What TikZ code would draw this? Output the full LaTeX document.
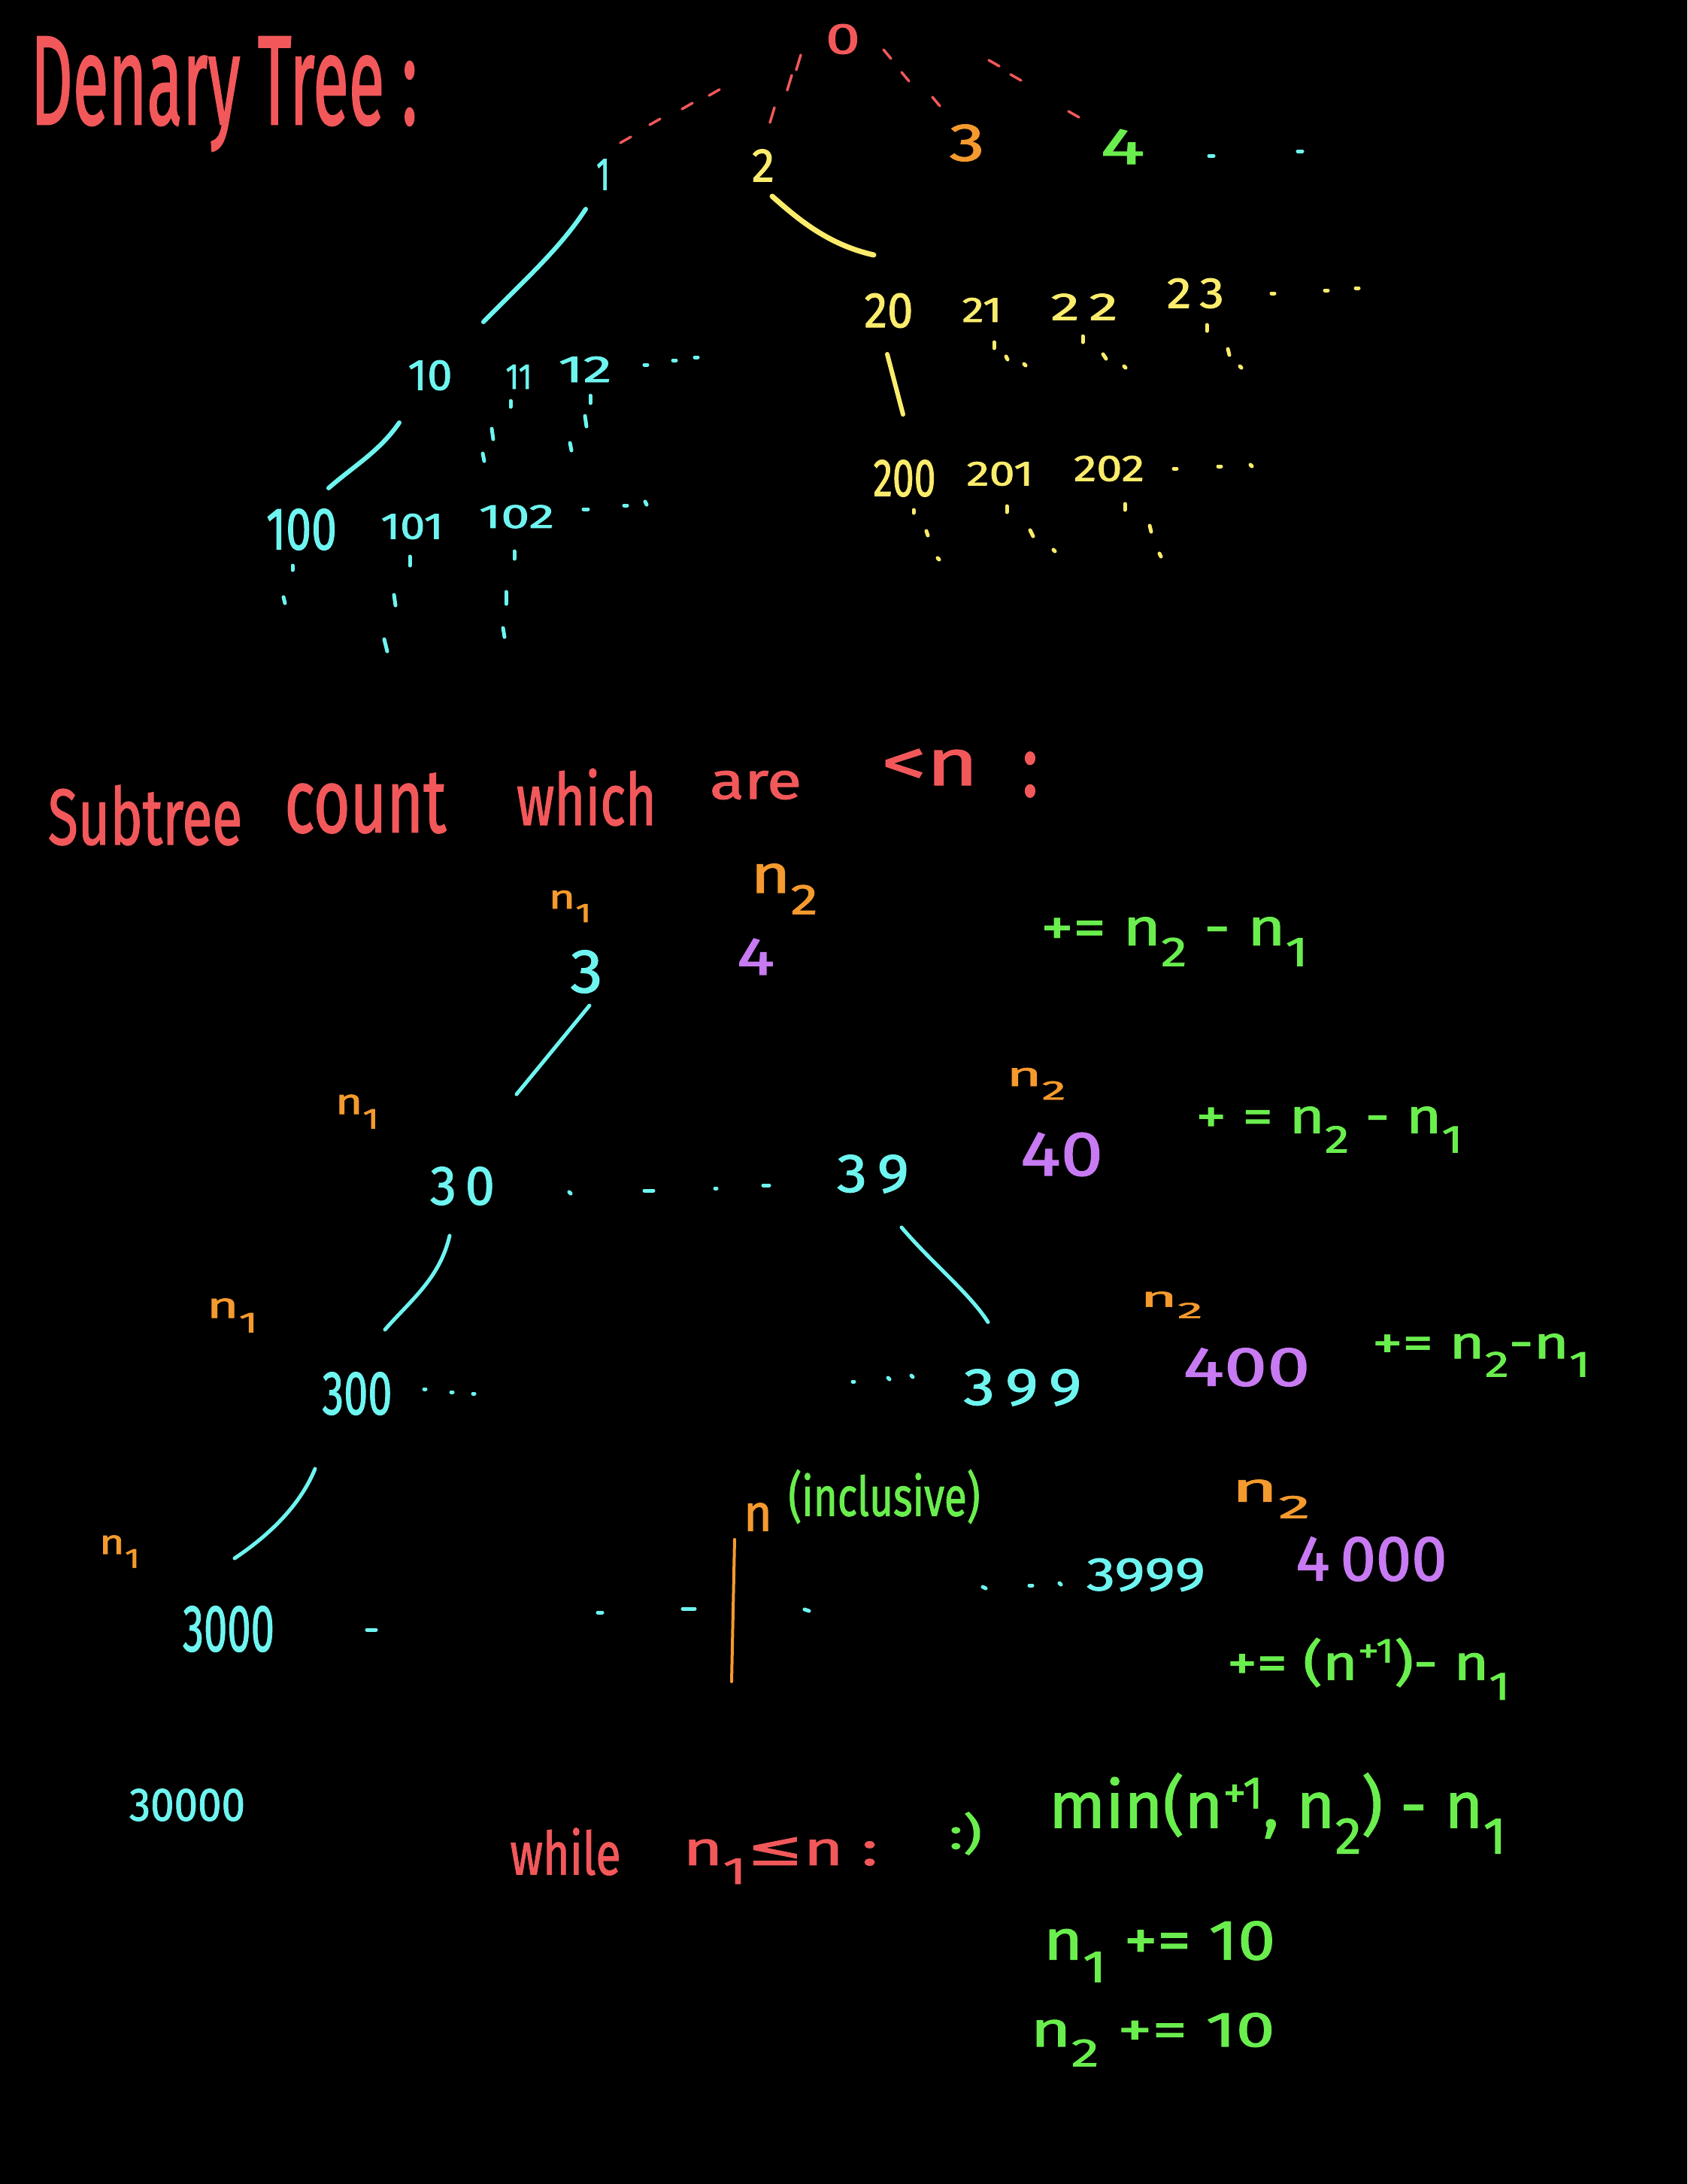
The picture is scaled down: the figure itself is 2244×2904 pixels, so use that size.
\documentclass[tikz,border=0pt]{standalone}
\usepackage{fontspec}
\usepackage{graphicx}
\setmainfont{Fira Sans}[FakeBold=1.5]
\newfontfamily\dejavu{DejaVu Sans}[FakeBold=1.5]
\definecolor{redH}{HTML}{F2585A}
\definecolor{cyanH}{HTML}{6EF5F0}
\definecolor{yellowH}{HTML}{FCEC6C}
\definecolor{orangeH}{HTML}{F59A2E}
\definecolor{greenH}{HTML}{6AEE4E}
\definecolor{purpleH}{HTML}{C87AF2}
\newcommand{\hw}[3]{\resizebox*{#1pt}{#2pt}{#3}}
\newcommand{\sn}[1]{n\raisebox{-0.4em}{\footnotesize #1}}
\newcommand{\hmk}[5]{\draw[dotm,#1] ({#2-#4},{#3-#5}) -- ({#2+#4},{#3+#5});}
\tikzset{
  lbl/.style={inner sep=0pt, outer sep=0pt, anchor=center},
  conn/.style={line width=6pt, line cap=round},
  dotm/.style={line width=5pt, line cap=round},
  rdash/.style={line width=3.5pt, line cap=round, redH}
}
\begin{document}
\begin{tikzpicture}[x=1pt,y=-1pt]
\fill[black] (0,0) rectangle (2244,2904);
\useasboundingbox (0,0) rectangle (2244,2904);

% ---------- top tree ----------
\node[lbl,text=redH] (title) at (298,125) {\hw{514}{152}{Denary Tree :}};
\node[lbl,text=redH] (n0) at (1121,52) {\hw{46}{40}{0}};
\node[lbl,text=cyanH] (n1) at (802,232) {\hw{18}{41}{1}};
\node[lbl,text=yellowH] (n2) at (1015,220) {\hw{30}{43}{2}};
\node[lbl,text=orangeH] (n3) at (1286,190) {\hw{47}{49}{3}};
\node[lbl,text=greenH] (n4) at (1493,195) {\hw{59}{46}{4}};

% dashed edges from 0
\foreach \p in {(950,123),(914,141),(871,162),(832,186)} {\draw[rdash] \p ++(-7,4) -- ++(14,-8);}
\foreach \p in {(1062,83),(1050,110),(1027,153)} {\draw[rdash] \p ++(-3,10) -- ++(6,-20);}
\foreach \p in {(1180,72),(1204,102),(1245,135)} {\draw[rdash] \p ++(-5,-6) -- ++(10,12);}
\foreach \p in {(1322,84),(1351,103),(1428,152)} {\draw[rdash] \p ++(-7,-4) -- ++(14,8);}
\hmk{cyanH}{1611}{207}{3}{0}
\hmk{cyanH}{1729}{201}{3}{0}

% subtree of 1
\coordinate (c1a) at (779,278); \coordinate (c1b) at (643,428);
\draw[conn,cyanH] (c1a) .. controls (745,330) and (700,370) .. (c1b);
\node[lbl,text=cyanH] (n10) at (572,499) {\hw{59}{40}{10}};
\node[lbl,text=cyanH] (n11) at (690,501) {\hw{35}{32}{11}};
\node[lbl,text=cyanH] (n12) at (778,491) {\hw{71}{34}{12}};
\hmk{cyanH}{859}{485}{2}{0}
\hmk{cyanH}{897}{479}{2}{0}
\hmk{cyanH}{926}{475}{2}{0}
\hmk{cyanH}{679}{537}{0}{4}
\hmk{cyanH}{655}{577}{1}{7}
\hmk{cyanH}{643}{608}{1}{5}
\hmk{cyanH}{785}{531}{0}{5}
\hmk{cyanH}{779}{560}{1}{7}
\hmk{cyanH}{759}{594}{1}{5}
\coordinate (c10a) at (531,562); \coordinate (c10b) at (437,649);
\draw[conn,cyanH] (c10a) .. controls (505,600) and (470,620) .. (c10b);
\node[lbl,text=cyanH] (n100) at (401,704) {\hw{94}{55}{100}};
\node[lbl,text=cyanH] (n101) at (548,700) {\hw{83}{34}{101}};
\node[lbl,text=cyanH] (n102) at (687,687) {\hw{100}{31}{102}};
\hmk{cyanH}{779}{677}{3}{0}
\hmk{cyanH}{832}{672}{2}{0}
\hmk{cyanH}{859}{669}{1}{2}
\hmk{cyanH}{389}{755}{0}{3}
\hmk{cyanH}{378}{798}{1}{4}
\hmk{cyanH}{545}{746}{0}{6}
\hmk{cyanH}{525}{798}{1}{7}
\hmk{cyanH}{513}{858}{2}{8}
\hmk{cyanH}{684}{738}{0}{5}
\hmk{cyanH}{673}{795}{0}{8}
\hmk{cyanH}{670}{841}{1}{6}

% subtree of 2
\coordinate (c2a) at (1027,261); \coordinate (c2b) at (1162,339);
\draw[conn,yellowH,line width=7pt] (c2a) .. controls (1060,290) and (1100,325) .. (c2b);
\node[lbl,text=yellowH] (n20) at (1182,413) {\hw{65}{46}{20}};
\node[lbl,text=yellowH] (n21) at (1306,412) {\hw{53}{32}{21}};
\node[lbl,text=yellowH] (n22) at (1442,408) {\hw{89}{35}{2\,2}};
\node[lbl,text=yellowH] (n23) at (1590,390) {\hw{76}{40}{2\,3}};
\hmk{yellowH}{1693}{390}{2}{0}
\hmk{yellowH}{1764}{386}{2}{0}
\hmk{yellowH}{1805}{383}{2}{0}
\hmk{yellowH}{1322}{459}{0}{4}
\hmk{yellowH}{1339}{476}{1}{2}
\hmk{yellowH}{1363}{485}{1}{1}
\hmk{yellowH}{1440}{451}{0}{4}
\hmk{yellowH}{1469}{474}{2}{3}
\hmk{yellowH}{1496}{488}{1}{1}
\hmk{yellowH}{1605}{436}{0}{4}
\hmk{yellowH}{1634}{468}{1}{4}
\hmk{yellowH}{1650}{488}{1}{1}
\coordinate (c20a) at (1180,471); \coordinate (c20b) at (1201,551);
\draw[conn,yellowH] (c20a) -- (c20b);
\node[lbl,text=yellowH] (n200) at (1203,636) {\hw{83}{49}{200}};
\node[lbl,text=yellowH] (n201) at (1330,630) {\hw{89}{32}{201}};
\node[lbl,text=yellowH] (n202) at (1475,623) {\hw{94}{34}{202}};
\hmk{yellowH}{1563}{623}{2}{0}
\hmk{yellowH}{1622}{620}{2}{0}
\hmk{yellowH}{1664}{619}{1}{1}
\hmk{yellowH}{1215}{680}{0}{2}
\hmk{yellowH}{1233}{709}{1}{3}
\hmk{yellowH}{1248}{743}{1}{1}
\hmk{yellowH}{1339}{677}{0}{4}
\hmk{yellowH}{1372}{709}{2}{4}
\hmk{yellowH}{1402}{732}{1}{1}
\hmk{yellowH}{1496}{674}{0}{4}
\hmk{yellowH}{1530}{703}{1}{4}
\hmk{yellowH}{1543}{738}{1}{2}

% ---------- subtree count ----------
\node[lbl,text=redH] (w1) at (193,1084) {\hw{258}{80}{Subtree}};
\node[lbl,text=redH] (w2) at (486,1068) {\hw{215}{80}{count}};
\node[lbl,text=redH] (w3) at (780,1060) {\hw{186}{76}{which}};
\node[lbl,text=redH] (w4) at (1005,1044) {\hw{122}{38}{are}};
\node[lbl,text=redH] (w5) at (1237,1020) {\hw{129}{48}{<n}};
\node[lbl,text=redH] (w6) at (1370,1030) {\hw{22}{60}{:}};

\node[lbl,text=orangeH] (a1) at (758,1205) {\hw{57}{42}{\sn{1}}};
\node[lbl,text=orangeH] (a2) at (1043,1182) {\hw{89}{67}{\sn{2}}};
\node[lbl,text=cyanH] (b3) at (780,1292) {\hw{43}{57}{3}};
\node[lbl,text=purpleH] (b4) at (1005,1272) {\hw{50}{48}{4}};
\node[lbl,text=greenH] (e1) at (1562,1252) {\hw{355}{65}{+= \sn{2} - \sn{1}}};

\coordinate (c3a) at (784,1337); \coordinate (c3b) at (687,1455);
\draw[conn,cyanH,line width=5pt] (c3a) -- (c3b);
\node[lbl,text=orangeH] (a3) at (475,1478) {\hw{58}{45}{\sn{1}}};
\node[lbl,text=cyanH] (b30) at (615,1577) {\hw{86}{51}{3\,0}};
\hmk{cyanH}{758}{1586}{1}{1}
\hmk{cyanH}{863}{1583}{6}{0}
\hmk{cyanH}{952}{1580}{1}{0}
\hmk{cyanH}{1019}{1576}{4}{0}
\node[lbl,text=cyanH] (b39) at (1161,1561) {\hw{96}{51}{3\,9}};
\node[lbl,text=orangeH] (a4) at (1378,1441) {\hw{79}{42}{\sn{2}}};
\node[lbl,text=purpleH] (b40) at (1412,1535) {\hw{110}{58}{40}};
\node[lbl,text=greenH] (e2) at (1768,1502) {\hw{355}{61}{+ = \sn{2} - \sn{1}}};

\coordinate (c30a) at (598,1643); \coordinate (c30b) at (512,1768);
\draw[conn,cyanH,line width=5pt] (c30a) .. controls (585,1700) and (545,1730) .. (c30b);
\coordinate (c39a) at (1199,1632); \coordinate (c39b) at (1314,1758);
\draw[conn,cyanH,line width=5pt] (c39a) .. controls (1240,1680) and (1290,1720) .. (c39b);
\node[lbl,text=orangeH] (a5) at (309,1749) {\hw{68}{45}{\sn{1}}};
\node[lbl,text=orangeH] (a6) at (1558,1735) {\hw{83}{35}{\sn{2}}};
\node[lbl,text=cyanH] (b300) at (475,1853) {\hw{93}{57}{300}};
\hmk{cyanH}{565}{1847}{1}{0}
\hmk{cyanH}{601}{1851}{1}{0}
\hmk{cyanH}{630}{1853}{1}{0}
\hmk{cyanH}{1135}{1837}{1}{0}
\hmk{cyanH}{1182}{1833}{1}{1}
\hmk{cyanH}{1213}{1830}{1}{1}
\node[lbl,text=cyanH] (b399) at (1360,1845) {\hw{157}{49}{3\,9\,9}};
\node[lbl,text=purpleH] (b400) at (1658,1818) {\hw{169}{51}{400}};
\node[lbl,text=greenH] (e3) at (1970,1802) {\hw{290}{57}{+= \sn{2}-\sn{1}}};

% ---------- bottom ----------
\coordinate (c300a) at (419,1953); \coordinate (c300b) at (312,2072);
\draw[conn,cyanH,line width=5pt] (c300a) .. controls (400,2000) and (360,2040) .. (c300b);
\node[lbl,text=orangeH] (a7) at (159,2063) {\hw{54}{43}{\sn{1}}};
\node[lbl,text=cyanH] (b3000) at (304,2166) {\hw{122}{61}{3000}};
\hmk{cyanH}{494}{2167}{6}{0}
\hmk{cyanH}{798}{2144}{3}{0}
\hmk{cyanH}{916}{2139}{8}{0}
\hmk{cyanH}{1073}{2141}{3}{1}
\coordinate (bara) at (977,2047); \coordinate (barb) at (973,2236);
\draw[conn,orangeH,line width=4pt] (bara) -- (barb);
\node[lbl,text=orangeH] (nn) at (1008,2017) {\hw{38}{37}{n}};
\node[lbl,text=greenH] (incl) at (1176,1990) {\hw{255}{72}{(inclusive)}};
\node[lbl,text=orangeH] (a8) at (1690,1993) {\hw{105}{51}{\sn{2}}};
\hmk{cyanH}{1309}{2111}{2}{1}
\hmk{cyanH}{1371}{2108}{2}{0}
\hmk{cyanH}{1410}{2106}{1}{1}
\node[lbl,text=cyanH] (b3999) at (1524,2094) {\hw{158}{44}{3999}};
\node[lbl,text=purpleH] (b4000) at (1824,2073) {\hw{201}{59}{4\,000}};
\node[lbl,text=greenH] (e4) at (1820,2219) {\hw{376}{82}{+= (n\raisebox{0.35em}{\scriptsize +1})- \sn{1}}};
\node[lbl,text=cyanH] (b30000) at (249,2400) {\hw{154}{43}{30000}};
\node[lbl,text=redH] (wh) at (752,2462) {\hw{147}{63}{while}};
\node[lbl,text=redH] (cond) at (1038,2474) {\hw{259}{62}{\sn{1}{\dejavu ≤}n :}};
\node[lbl,text=greenH] (smile) at (1284,2438) {\hw{44}{57}{:)}};
\node[lbl,text=greenH] (minx) at (1699,2411) {\hw{608}{107}{min(n\raisebox{0.3em}{\scriptsize +1}, \sn{2}) - \sn{1}}};
\node[lbl,text=greenH] (inc1) at (1542,2595) {\hw{308}{81}{\sn{1} += 10}};
\node[lbl,text=greenH] (inc2) at (1533,2712) {\hw{325}{71}{\sn{2} += 10}};
\end{tikzpicture}
\end{document}
